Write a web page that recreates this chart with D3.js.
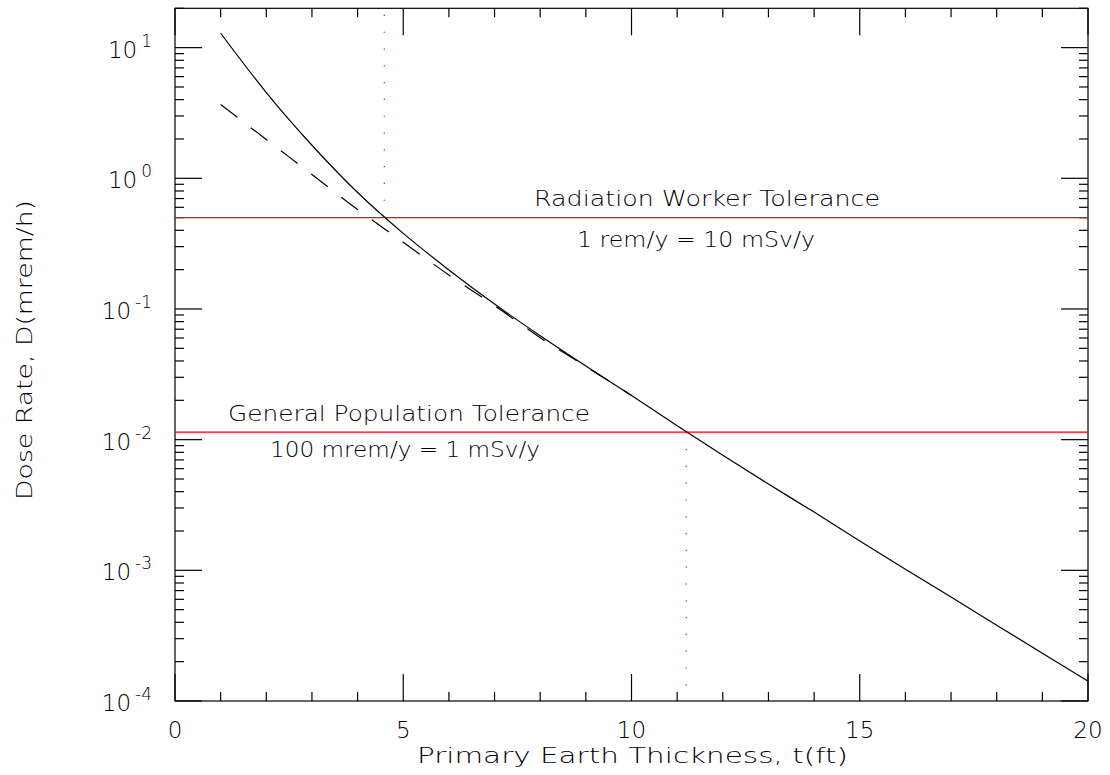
<!DOCTYPE html>
<html>
<head>
<meta charset="utf-8">
<script src="https://cdn.jsdelivr.net/npm/d3@7"></script>
<style>
  body { margin: 0; background: #fff; }
  text { font-family: "DejaVu Sans", "Liberation Sans", sans-serif; font-weight: 200; fill: #000; }
</style>
</head>
<body>
<script>
// chart values
var thickness  = [1,2,3,4,5,6,7,8,9,10,11,12,13,14,15,16,17,18,19,20];          // t (ft)
var doseTotal  = [12.9,4.53,1.79,0.778,0.379,0.199,0.109,0.0624,0.0366,0.0218,
                  0.0128,0.00759,0.00457,0.00279,0.00168,0.00102,0.000624,0.000380,0.000232,0.000142];
var thicknessB = [1,2,3,4,5,6,7,8,9,10];
var doseDashed = [3.67,1.98,1.07,0.577,0.324,0.182,0.106,0.0603,0.0363,0.0218];

var workerLimit = 0.5,    workerCross = 4.585;   // 1 rem/y
var publicLimit = 0.0114, publicCross = 11.2;    // 100 mrem/y

var xMajor = [0,5,10,15,20];
var yDecades = [-4,-3,-2,-1,0,1];

var W = 1110, H = 775;
var margin = {top: 8.3, right: 22, bottom: 74, left: 175};

var svg = d3.select("body").append("svg")
  .attr("width", W)
  .attr("height", H);

var x = d3.scaleLinear().domain([0, 20]).range([margin.left, W - margin.right]);
var y = d3.scaleLog().domain([1e-4, 20]).range([H - margin.bottom, margin.top]);

var x0 = x.range()[0], x1 = x.range()[1];
var yb = y.range()[0], yt = y.range()[1];

// frame
svg.append("rect")
  .attr("x", x0).attr("y", yt)
  .attr("width", x1 - x0).attr("height", yb - yt)
  .attr("fill", "none").attr("stroke", "#000").attr("stroke-width", 1.2);

// ticks, inward on all four sides
var ticks = svg.append("g").attr("stroke", "#000").attr("stroke-width", 1.2);
d3.range(0, 21).forEach(function(t) {
  var len = xMajor.indexOf(t) >= 0 ? 27 : 9;
  ticks.append("line").attr("x1", x(t)).attr("x2", x(t)).attr("y1", yb).attr("y2", yb - len);
  ticks.append("line").attr("x1", x(t)).attr("x2", x(t)).attr("y1", yt).attr("y2", yt + len);
});
yDecades.forEach(function(d) {
  for (var m = 1; m <= 9; m++) {
    var v = m * Math.pow(10, d);
    if (v > 20) continue;
    var len = m == 1 ? 27 : 9;
    ticks.append("line").attr("x1", x0).attr("x2", x0 + len).attr("y1", y(v)).attr("y2", y(v));
    ticks.append("line").attr("x1", x1).attr("x2", x1 - len).attr("y1", y(v)).attr("y2", y(v));
  }
});

// x tick labels
svg.selectAll(".xlab")
  .data(xMajor)
  .enter().append("text")
  .attr("class", "xlab")
  .attr("x", function(d) { return x(d); })
  .attr("y", yb + 37)
  .attr("text-anchor", "middle")
  .style("font-size", "23px")
  .text(function(d) { return d; });

// y tick labels 10^n
var ylab = svg.selectAll(".ylab")
  .data(yDecades)
  .enter().append("text")
  .attr("class", "ylab")
  .attr("x", 152)
  .attr("y", function(d) { return y(Math.pow(10, d)) + 10; })
  .attr("text-anchor", "end")
  .style("font-size", "23px");
ylab.append("tspan").text("10");
ylab.append("tspan")
  .attr("dx", 4)
  .attr("dy", -11)
  .style("font-size", "17px")
  .text(function(d) { return d; });

// tolerance lines
svg.append("g").selectAll("line")
  .data([workerLimit, publicLimit])
  .enter().append("line")
  .attr("x1", x0).attr("x2", x1)
  .attr("y1", function(d) { return y(d); })
  .attr("y2", function(d) { return y(d); })
  .attr("stroke", "#ff0000").attr("stroke-width", 1.3);

// dotted drop lines
svg.append("line")
  .attr("x1", x(workerCross)).attr("x2", x(workerCross))
  .attr("y1", y(workerLimit)).attr("y2", yt)
  .attr("stroke", "#ff0000").attr("stroke-width", 1.2)
  .attr("stroke-dasharray", "1.2,15.6");
svg.append("line")
  .attr("x1", x(publicCross)).attr("x2", x(publicCross))
  .attr("y1", y(publicLimit)).attr("y2", yb)
  .attr("stroke", "#ff0000").attr("stroke-width", 1.2)
  .attr("stroke-dasharray", "1.2,15.6");

// curves
var line = d3.line()
  .x(function(d) { return x(d[0]); })
  .y(function(d) { return y(d[1]); })
  .curve(d3.curveMonotoneX);

svg.append("path")
  .datum(d3.zip(thickness, doseTotal))
  .attr("d", line)
  .attr("fill", "none").attr("stroke", "#000").attr("stroke-width", 1.2);

svg.append("path")
  .datum(d3.zip(thicknessB, doseDashed))
  .attr("d", line)
  .attr("fill", "none").attr("stroke", "#000").attr("stroke-width", 1.2)
  .attr("stroke-dasharray", "21,17");

// annotations
function label(txt, cx, base, len, size) {
  svg.append("text")
    .attr("x", cx).attr("y", base)
    .attr("text-anchor", "middle")
    .attr("textLength", len)
    .attr("lengthAdjust", "spacingAndGlyphs")
    .style("font-size", size + "px")
    .text(txt);
}
label("Radiation Worker Tolerance", 707, y(workerLimit) - 12, 346, 21);
label("1 rem/y = 10 mSv/y", 696, y(workerLimit) + 29, 238, 21);
label("General Population Tolerance", 409, y(publicLimit) - 11, 362, 21);
label("100 mrem/y = 1 mSv/y", 405, y(publicLimit) + 25, 270, 21);

// axis titles
label("Primary Earth Thickness, t(ft)", 632.5, 763, 431, 21);
svg.append("text")
  .attr("transform", "translate(32,350) rotate(-90)")
  .attr("text-anchor", "middle")
  .attr("textLength", 300)
  .attr("lengthAdjust", "spacingAndGlyphs")
  .style("font-size", "22px")
  .text("Dose Rate, D(mrem/h)");
</script>
</body>
</html>
